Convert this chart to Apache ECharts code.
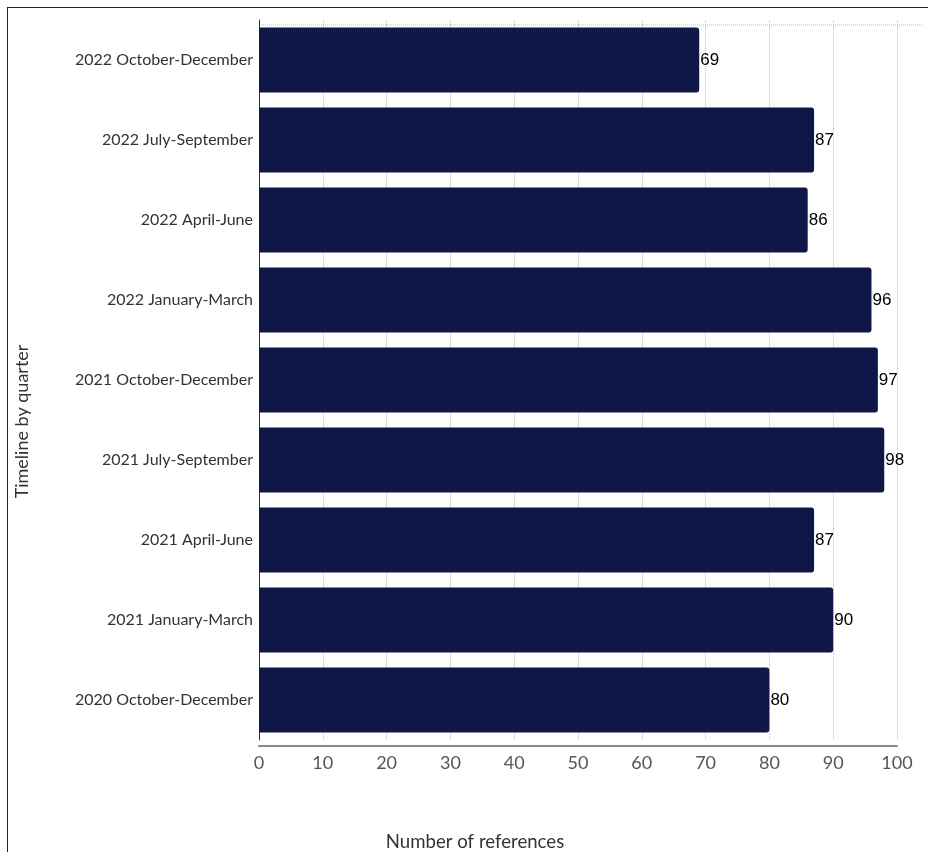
<!DOCTYPE html>
<html>
<head>
<meta charset="utf-8">
<script src="https://cdn.jsdelivr.net/npm/echarts@6/dist/echarts.min.js"></script>
<style>
html,body{margin:0;padding:0;background:#fff;}
#frame{position:absolute;left:7px;top:7px;width:921px;height:845px;border-left:1.5px solid #222;border-top:1.5px solid #222;box-sizing:border-box;}
#chart{position:absolute;left:0;top:0;width:928px;height:852px;}
</style>
</head>
<body>
<div id="frame"></div>
<div id="chart"></div>
<script>
const categories = [
  "2022 October-December",
  "2022 July-September",
  "2022 April-June",
  "2022 January-March",
  "2021 October-December",
  "2021 July-September",
  "2021 April-June",
  "2021 January-March",
  "2020 October-December"
];
const references = [69, 87, 86, 96, 97, 98, 87, 90, 80];
const xTicks = [0, 10, 20, 30, 40, 50, 60, 70, 80, 90, 100];

const chart = echarts.init(document.getElementById('chart'), null, {renderer: 'canvas'});
chart.setOption({
  animation: false,
  backgroundColor: 'transparent',
  grid: {left: 259, right: 31, top: 20, bottom: 112, containLabel: false, outerBoundsMode: 'none'},
  graphic: [{
    type: 'line',
    shape: {x1: 259, y1: 25, x2: 922, y2: 25},
    style: {stroke: '#bbb', lineWidth: 1, lineDash: [1, 1]}
  }],
  xAxis: {
    type: 'value',
    min: xTicks[0],
    max: xTicks[xTicks.length - 1],
    interval: 10,
    offset: 6,
    name: 'Number of references',
    nameLocation: 'middle',
    nameGap: 86,
    nameTextStyle: {fontFamily: 'Lato', fontSize: 18.6, color: '#333', padding: [0, 206, 0, 0]},
    axisLine: {show: true, lineStyle: {color: '#888', width: 2}},
    axisTick: {show: false},
    axisLabel: {fontFamily: 'Lato', fontSize: 18, color: '#555', margin: 8},
    splitLine: {show: true, lineStyle: {color: '#bbb', type: [1, 1], width: 1}}
  },
  yAxis: {
    type: 'category',
    data: categories,
    inverse: true,
    name: 'Timeline by quarter',
    nameLocation: 'middle',
    nameGap: 228,
    nameRotate: 90,
    nameTextStyle: {fontFamily: 'Lato', fontSize: 18, color: '#333', padding: [0, 83, 0, 0]},
    axisLine: {show: true, lineStyle: {color: '#333', width: 1}},
    axisTick: {show: false},
    axisLabel: {fontFamily: 'Lato', fontSize: 16, color: '#333', margin: 6},
    splitLine: {show: false}
  },
  series: [{
    type: 'bar',
    data: references,
    barWidth: 65,
    itemStyle: {color: '#0e1747', borderRadius: [0, 3, 3, 0]},
    label: {
      show: true,
      position: 'right',
      distance: 1,
      fontFamily: 'Liberation Sans',
      fontSize: 17,
      color: '#000'
    }
  }]
});
</script>
</body>
</html>
